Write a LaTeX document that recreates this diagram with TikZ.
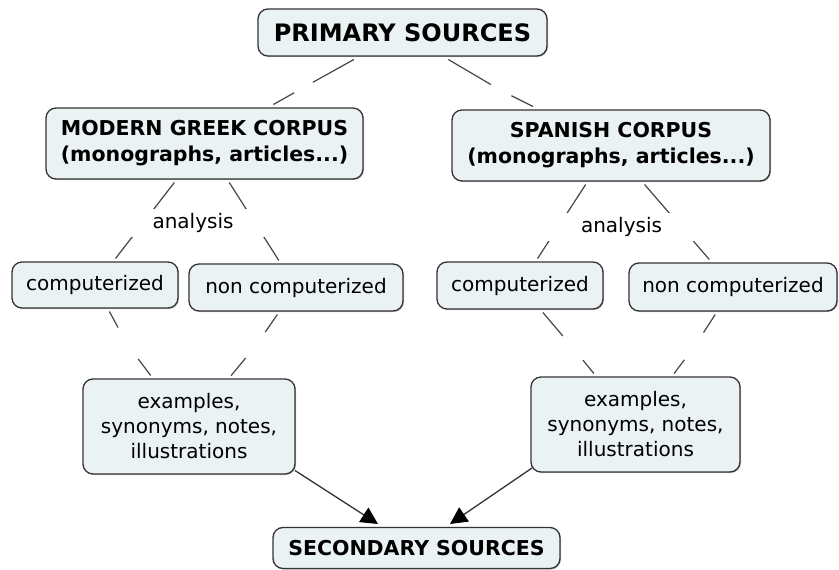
\documentclass[tikz,border=0pt]{standalone}
\usepackage{fontspec}
\setmainfont{DejaVu Sans}
\usetikzlibrary{arrows.meta,shadows}
\definecolor{boxfill}{HTML}{EBF2F4}
\definecolor{boxline}{HTML}{333333}
\definecolor{connline}{HTML}{454545}
\begin{document}
\begin{tikzpicture}[x=1pt,y=-1pt,
  concept/.style={draw=boxline, line width=1.3pt, fill=boxfill, rounded corners=10pt,
    align=center, inner sep=0pt, outer sep=3.5pt, font=\fontsize{20}{25}\selectfont,
    drop shadow={shadow xshift=1pt,shadow yshift=-1pt,fill=black!50,opacity=.5}},
  boldtext/.style={font=\bfseries\fontsize{20.5}{26}\selectfont},
  hid/.style={circle, inner sep=0pt, minimum size=#1},
  conn/.style={draw=connline, line width=1.2pt},
  phrase/.style={fill=white, inner sep=0pt, font=\fontsize{20}{24}\selectfont},
  flow/.style={draw=black!80, line width=1.3pt, -{Triangle[length=17pt,width=17pt,fill=black,color=black]}}
]
\useasboundingbox (0,0) rectangle (839,570);

% concepts
\node[concept, font=\bfseries\fontsize{24}{28}\selectfont, minimum width=289pt, minimum height=47pt] (prim) at (402.5,32.5) {PRIMARY SOURCES};
\node[concept, boldtext, minimum width=317pt, minimum height=71pt] (mg) at (204.5,143.5) {MODERN GREEK CORPUS\\(monographs, articles...)};
\node[concept, boldtext, minimum width=318pt, minimum height=71pt] (sp) at (611,145.5) {SPANISH CORPUS\\(monographs, articles...)};
\node[concept, minimum width=166pt, minimum height=46pt] (cl) at (95,285) {computerized};
\node[concept, minimum width=214pt, minimum height=47pt] (nl) at (296,287.5) {non computerized};
\node[concept, minimum width=166pt, minimum height=47pt] (cr) at (520,285.5) {computerized};
\node[concept, minimum width=208pt, minimum height=48pt] (nr) at (733,287) {non computerized};
\node[concept, minimum width=212pt, minimum height=95pt] (el) at (189,426.5) {examples,\\synonyms, notes,\\illustrations};
\node[concept, minimum width=209pt, minimum height=95pt] (er) at (635.5,424.5) {examples,\\synonyms, notes,\\illustrations};
\node[concept, boldtext, minimum width=287pt, minimum height=41pt] (sec) at (416.5,548) {SECONDARY SOURCES};

% hidden linking points
\node[hid=21pt] (k1) at (303.5,87.5) {};
\node[hid=23pt] (k2) at (501,90.5) {};
\node[hid=37pt] (k3) at (127,344) {};
\node[hid=32pt] (k4) at (256,345.5) {};
\node[hid=31pt] (k5) at (573,348) {};
\node[hid=33pt] (k6) at (694.5,346.5) {};

% connectors
\draw[conn] (prim) -- (k1);
\draw[conn] (k1) -- (mg);
\draw[conn] (prim) -- (k2);
\draw[conn] (k2) -- (sp);
\draw[conn] (mg) -- (cl);
\draw[conn] (mg) -- (nl);
\draw[conn] (sp) -- (cr);
\draw[conn] (sp) -- (nr);
\draw[conn] (cl) -- (k3);
\draw[conn] (k3) -- (el);
\draw[conn] (nl) -- (k4);
\draw[conn] (k4) -- (el);
\draw[conn] (cr) -- (k5);
\draw[conn] (k5) -- (er);
\draw[conn] (nr) -- (k6);
\draw[conn] (k6) -- (er);

% linking phrases
\node[phrase, minimum width=144pt, minimum height=28pt] (al) at (193,223) {analysis};
\node[phrase, minimum width=153pt, minimum height=28pt] (ar) at (621.5,227) {analysis};

% arrows
\draw[flow] ([shift={(-3.5pt,7pt)}]el.south east) -- ([xshift=-38.5pt]sec.north);
\draw[flow] ([shift={(4.5pt,7.5pt)}]er.south west) -- ([xshift=33.5pt]sec.north);
\end{tikzpicture}
\end{document}
